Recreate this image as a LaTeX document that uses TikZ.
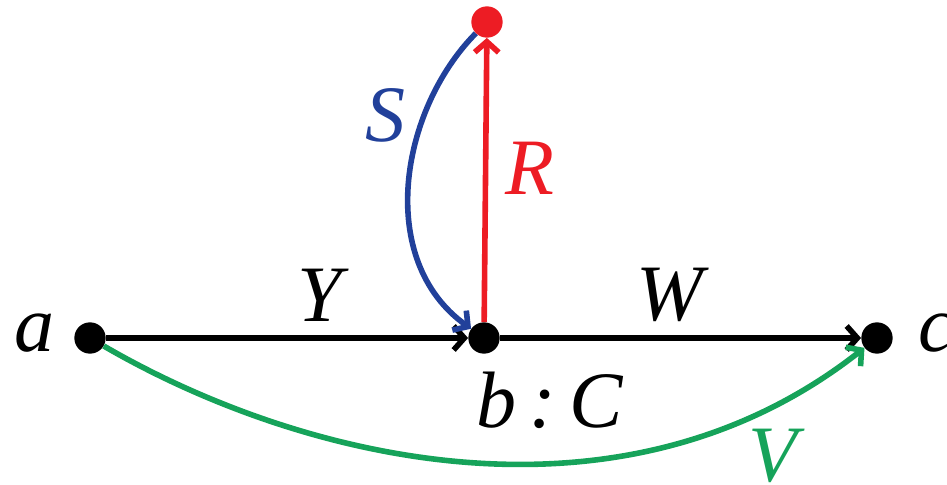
\documentclass[tikz,border=0pt]{standalone}
\usepackage{fontspec}
\setmainfont{Liberation Serif}
\usetikzlibrary{arrows.meta}
\definecolor{myred}{RGB}{237,28,36}
\definecolor{myblue}{RGB}{33,64,154}
\definecolor{mygreen}{RGB}{22,163,90}
\begin{document}
\begin{tikzpicture}[x=0.75pt,y=-0.75pt,
  dot/.style={circle,fill=#1,inner sep=0pt,minimum size=23.5pt},
  arr/.style={line width=4.2pt,-{Straight Barb[length=8pt,width=18pt,line width=4.2pt]}},
  lbl/.style={font=\fontsize{60}{60}\selectfont\itshape,inner sep=0pt}]
\useasboundingbox (0,0) rectangle (947,485);
\node[dot=black] (a) at (90,338) {};
\node[dot=black] (b) at (484,338) {};
\node[dot=black] (c) at (877,338) {};
\node[dot=myred] (r) at (487,22) {};
\draw[arr] (a) -- (b);
\draw[arr] (b) -- (c);
\draw[arr,myred] (b) -- (r);
\draw[arr,myblue] (r) .. controls (400,110) and (375,260) .. (b);
\draw[arr,mygreen] (a) .. controls (300,460) and (620,540) .. (c);
\node[lbl] (la) at (35,333) {a};
\node[lbl,anchor=west] (lc) at (918,333) {c};
\node[lbl] (ly) at (320,295) {Y};
\node[lbl] (lw) at (670,295) {W};
\node[lbl] (lbc) at (550,400) {b\,:\,C};
\node[lbl,myred] (lr) at (530,168) {R};
\node[lbl,myblue] (ls) at (385,115) {S};
\node[lbl,mygreen] (lv) at (773,456) {V};
\end{tikzpicture}
\end{document}
